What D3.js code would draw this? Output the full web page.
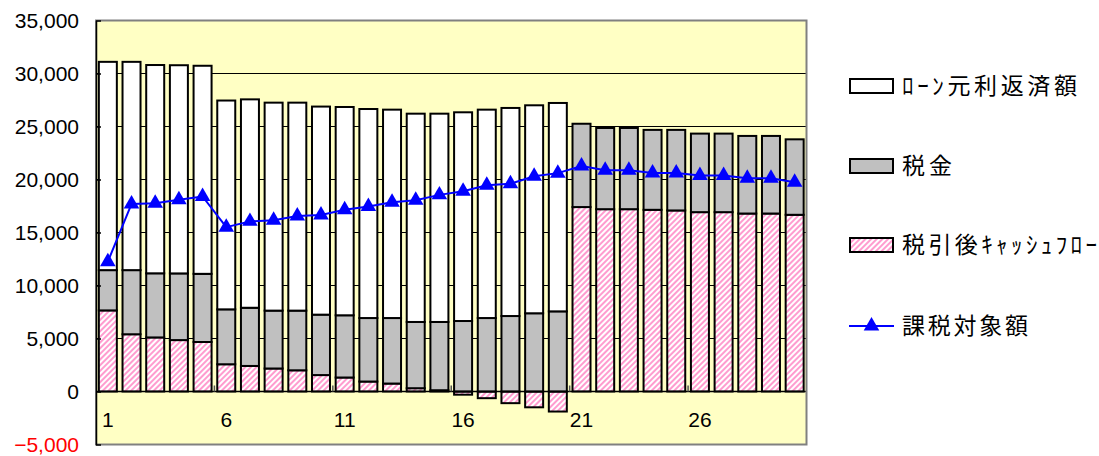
<!DOCTYPE html>
<html>
<head>
<meta charset="utf-8">
<script src="https://cdn.jsdelivr.net/npm/d3@7"></script>
<style>
  html, body { margin: 0; padding: 0; background: #ffffff; }
  svg { display: block; }
</style>
</head>
<body>
<svg id="chart" width="1099" height="456"></svg>
<script>
// Years of the projection
const categories = d3.range(1, 31);

// ローン元利返済額 (loan principal + interest repayment)
const loanRepayment = [19650, 19650, 19650, 19640, 19630, 19700, 19660, 19620, 19620, 19630,
                       19650, 19720, 19660, 19650, 19650, 19690, 19660, 19630, 19620, 19660,
                       0, 0, 0, 0, 0, 0, 0, 0, 0, 0];
// 税金 (tax)
const taxAmount = [3800, 6050, 6050, 6290, 6430, 5180, 5490, 5460, 5630, 5700,
                   5870, 5990, 6180, 6250, 6440, 6650, 6930, 7120, 7380, 7560,
                   7860, 7660, 7660, 7540, 7600, 7410, 7410, 7320, 7320, 7120];
// 税引後キャッシュフロー (after-tax cash flow)
const afterTaxCashFlow = [7650, 5400, 5100, 4850, 4670, 2570, 2410, 2170, 2000, 1550,
                          1320, 940, 750, 310, 120, -300, -630, -1100, -1490, -1890,
                          17400, 17200, 17200, 17140, 17080, 16920, 16920, 16790, 16790, 16670];
// 課税対象額 (taxable amount)
const taxableAmount = [12250, 17700, 17750, 18100, 18400, 15500, 16050, 16150, 16550, 16650,
                       17150, 17450, 17850, 18050, 18550, 18900, 19450, 19600, 20300, 20600,
                       21280, 20880, 20880, 20620, 20620, 20370, 20370, 20120, 20120, 19750];

const yTicks = [-5000, 0, 5000, 10000, 15000, 20000, 25000, 30000, 35000];
const xTickLabels = [1, 6, 11, 16, 21, 26];

const seriesNames = {
  loan: "ﾛｰﾝ元利返済額",
  tax: "税金",
  cf: "税引後ｷｬｯｼｭﾌﾛｰ",
  taxable: "課税対象額"
};

const svg = d3.select("#chart");
const plot = { left: 96, right: 806.5, top: 20.5, bottom: 444.5 };

const x = d3.scaleBand()
  .domain(categories)
  .range([plot.left, plot.right])
  .paddingInner(0.24)
  .paddingOuter(0.12);

const y = d3.scaleLinear()
  .domain([-5000, 35000])
  .range([plot.bottom, plot.top]);

// hatch for the after-tax cash flow
const defs = svg.append("defs");
const pat = defs.append("pattern")
  .attr("id", "hatch")
  .attr("patternUnits", "userSpaceOnUse")
  .attr("width", 4)
  .attr("height", 4)
  .attr("patternTransform", "rotate(45)");
pat.append("rect").attr("width", 4).attr("height", 4).attr("fill", "#ffffff");
pat.append("rect").attr("width", 2).attr("height", 4).attr("fill", "#ff9ccf");

// plot background
svg.append("rect")
  .attr("x", plot.left).attr("y", plot.top)
  .attr("width", plot.right - plot.left).attr("height", plot.bottom - plot.top)
  .attr("fill", "#ffffc4");

// horizontal gridlines
svg.append("g")
  .selectAll("line")
  .data(yTicks.filter(d => d > 0 && d < 35000))
  .join("line")
  .attr("x1", plot.left).attr("x2", plot.right)
  .attr("y1", d => y(d)).attr("y2", d => y(d))
  .attr("stroke", "#000").attr("stroke-width", 1);

// stacked bars
const rows = categories.map((c, i) => ({
  year: c, cf: afterTaxCashFlow[i], tax: taxAmount[i], loan: loanRepayment[i]
}));
const stack = d3.stack()
  .keys(["cf", "tax", "loan"])
  .offset(d3.stackOffsetDiverging);
const layers = stack(rows);
const fills = { cf: "url(#hatch)", tax: "#c0c0c0", loan: "#ffffff" };

svg.append("g")
  .selectAll("g")
  .data(layers)
  .join("g")
  .attr("fill", d => fills[d.key])
  .selectAll("rect")
  .data(d => d.filter(p => p[1] !== p[0]))
  .join("rect")
  .attr("x", d => x(d.data.year))
  .attr("width", x.bandwidth())
  .attr("y", d => y(Math.max(d[0], d[1])))
  .attr("height", d => Math.abs(y(d[0]) - y(d[1])))
  .attr("stroke", "#000")
  .attr("stroke-width", 2);

// category axis at zero
svg.append("line")
  .attr("x1", plot.left).attr("x2", plot.right)
  .attr("y1", y(0)).attr("y2", y(0))
  .attr("stroke", "#000").attr("stroke-width", 1.5);

// category tick marks every 5 years, between bars
const step = x.step();
svg.append("g")
  .selectAll("line")
  .data([5, 10, 15, 20, 25])
  .join("line")
  .attr("x1", d => x(d) + x.bandwidth() + (step - x.bandwidth()) / 2)
  .attr("x2", d => x(d) + x.bandwidth() + (step - x.bandwidth()) / 2)
  .attr("y1", y(0)).attr("y2", y(0) - 6)
  .attr("stroke", "#555").attr("stroke-width", 1.5);

// category labels
svg.append("g")
  .selectAll("text")
  .data(xTickLabels)
  .join("text")
  .attr("x", d => x(d) + x.bandwidth() / 2)
  .attr("y", 427)
  .attr("text-anchor", "middle")
  .attr("font-family", "Liberation Sans, Arial, sans-serif")
  .attr("font-size", 21)
  .attr("fill", "#000")
  .text(d => d);

// taxable amount line with triangle markers
const line = d3.line()
  .x((d, i) => x(categories[i]) + x.bandwidth() / 2)
  .y(d => y(d));
svg.append("path")
  .datum(taxableAmount)
  .attr("d", line)
  .attr("fill", "none")
  .attr("stroke", "#0000ff")
  .attr("stroke-width", 2);
const tri = d3.symbol().type(d3.symbolTriangle).size(105);
svg.append("g")
  .selectAll("path")
  .data(taxableAmount)
  .join("path")
  .attr("d", tri)
  .attr("transform", (d, i) => `translate(${x(categories[i]) + x.bandwidth() / 2},${y(d)})`)
  .attr("fill", "#0000ff");

// plot border
svg.append("rect")
  .attr("x", plot.left).attr("y", plot.top)
  .attr("width", plot.right - plot.left).attr("height", plot.bottom - plot.top)
  .attr("fill", "none")
  .attr("stroke", "#808080").attr("stroke-width", 2);

// value axis
const yAxis = d3.axisLeft(y)
  .tickValues(yTicks)
  .tickFormat(d3.format(","))
  .tickSizeInner(-5)
  .tickSizeOuter(0)
  .tickPadding(17);
const ya = svg.append("g")
  .attr("transform", `translate(${plot.left},0)`)
  .call(yAxis);
ya.select(".domain").attr("stroke", "#000").attr("stroke-width", 1.5);
ya.selectAll(".tick line").attr("stroke", "#000").attr("stroke-width", 1.5);
ya.selectAll(".tick text")
  .attr("font-family", "Liberation Sans, Arial, sans-serif")
  .attr("font-size", 21)
  .attr("fill", d => d < 0 ? "#ff0000" : "#000");

// legend
const legendItems = [
  { key: "loan", label: seriesNames.loan, cy: 86, len: 175 },
  { key: "tax", label: seriesNames.tax, cy: 166, len: 50 },
  { key: "cf", label: seriesNames.cf, cy: 245, len: 195 },
  { key: "taxable", label: seriesNames.taxable, cy: 326, len: 126 }
];
const lg = svg.append("g");
legendItems.forEach(item => {
  if (item.key === "taxable") {
    lg.append("line")
      .attr("x1", 849).attr("x2", 894)
      .attr("y1", item.cy).attr("y2", item.cy)
      .attr("stroke", "#0000ff").attr("stroke-width", 2);
    lg.append("path")
      .attr("d", tri)
      .attr("transform", `translate(871.5,${item.cy})`)
      .attr("fill", "#0000ff");
  } else {
    lg.append("rect")
      .attr("x", 850).attr("y", item.cy - 7)
      .attr("width", 43).attr("height", 14)
      .attr("fill", fills[item.key])
      .attr("stroke", "#000").attr("stroke-width", 2);
  }
  lg.append("text")
    .attr("x", 902)
    .attr("y", item.cy)
    .attr("dy", "0.36em")
    .attr("font-family", "Noto Sans CJK JP, sans-serif")
    .attr("font-size", 23)
    .attr("textLength", item.len)
    .attr("lengthAdjust", "spacing")
    .attr("fill", "#000")
    .text(item.label);
});
</script>
</body>
</html>
